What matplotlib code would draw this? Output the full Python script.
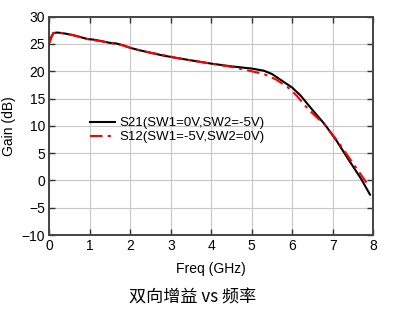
import matplotlib
matplotlib.use("Agg")
import matplotlib.pyplot as plt

plt.rcParams['font.family'] = ['Liberation Sans', 'Noto Sans CJK SC', 'DejaVu Sans']

# Measured gain curves
freq_s21 = [0.0, 0.05, 0.1, 0.2, 0.4, 0.6, 0.8, 0.95, 1.1, 1.3, 1.5, 1.65, 1.8, 2.0, 2.2, 2.5,
            2.8, 3.1, 3.5, 4.0, 4.5, 5.0, 5.3, 5.5, 5.8, 6.0, 6.2, 6.5, 6.8, 7.1, 7.4,
            7.7, 7.92]
gain_s21 = [25.3, 26.3, 27.0, 27.1, 26.9, 26.6, 26.2, 25.9, 25.8, 25.5, 25.2, 25.1, 24.8,
            24.3, 23.9, 23.4, 22.9, 22.5, 22.0, 21.4, 20.9, 20.5, 20.1, 19.5, 18.0, 17.0,
            15.6, 12.9, 10.3, 7.2, 3.7, 0.3, -2.6]

freq_s12 = [0.0, 0.05, 0.1, 0.2, 0.4, 0.6, 0.8, 0.95, 1.1, 1.3, 1.5, 1.65, 1.8, 2.0, 2.2, 2.5,
            2.8, 3.1, 3.5, 4.0, 4.5, 5.0, 5.3, 5.6, 5.9, 6.1, 6.4, 6.8, 7.1, 7.4, 7.7, 7.9]
gain_s12 = [25.2, 26.2, 27.0, 27.1, 26.9, 26.6, 26.2, 25.9, 25.7, 25.5, 25.2, 25.0, 24.8,
            24.3, 23.9, 23.4, 23.0, 22.5, 22.0, 21.4, 20.8, 20.0, 19.5, 18.5, 17.0, 15.6,
            13.0, 10.2, 7.4, 4.2, 1.0, -1.1]

label_s21 = "S21(SW1=0V,SW2=-5V)"
label_s12 = "S12(SW1=-5V,SW2=0V)"
x_ticks = [0, 1, 2, 3, 4, 5, 6, 7, 8]
y_ticks = [-10, -5, 0, 5, 10, 15, 20, 25, 30]

fig = plt.figure(figsize=(3.97, 3.27), dpi=100)
ax = fig.add_axes([0.1242, 0.2813, 0.816, 0.6676])

ax.plot(freq_s21, gain_s21, color='black', lw=1.5, label=label_s21, zorder=3)
ax.plot(freq_s12, gain_s12, color='#ff0000', lw=1.5, ls=(0, (6, 2.5, 1.5, 2.5)),
        label=label_s12, zorder=4)

ax.set_xlim(0, 8)
ax.set_ylim(-10, 30)
ax.set_xticks(x_ticks)
ax.set_yticks(y_ticks)
ax.grid(True, color='#c8c8c8', lw=0.8)
ax.set_axisbelow(True)
ax.tick_params(direction='in', length=4, width=1, top=True, right=True,
               labelsize=10, pad=3, colors='#333333', labelcolor='black')
for sp in ax.spines.values():
    sp.set_color('#444444')
    sp.set_linewidth(1.4)

ax.set_xlabel("Freq (GHz)", fontsize=10, labelpad=6)
ax.set_ylabel("Gain (dB)", fontsize=10, labelpad=4)

ax.legend(loc='upper left', bbox_to_anchor=(0.097, 0.582), frameon=False, fontsize=9.5,
          handlelength=1.9, handletextpad=0.3, labelspacing=0.12, borderpad=0.2)

fig.text(0.484, 0.09, "双向增益 vs 频率", ha='center', va='center', fontsize=12.3,
         family=['Noto Sans CJK SC', 'DejaVu Sans'])

fig.savefig("out.png", dpi=100)
